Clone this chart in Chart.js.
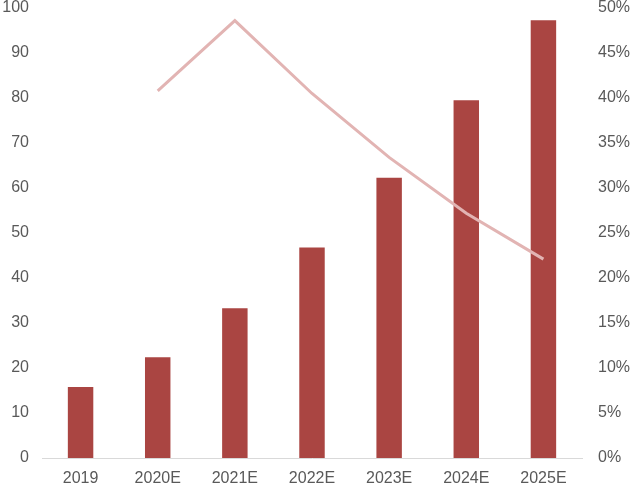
<!DOCTYPE html>
<html>
<head>
<meta charset="utf-8">
<script src="https://cdn.jsdelivr.net/npm/chart.js@4/dist/chart.umd.min.js"></script>
<style>
  html, body { margin: 0; padding: 0; background: #fff; }
  #wrap { width: 640px; height: 492px; }
</style>
</head>
<body>
<div id="wrap"><canvas id="chart"></canvas></div>
<script>
// Categorias e séries
const categorias = ['2019', '2020E', '2021E', '2022E', '2023E', '2024E', '2025E'];
const valores = [15.8, 22.4, 33.3, 46.8, 62.3, 79.5, 97.3];
const crescimento = [null, 40.8, 48.6, 40.5, 33.4, 27.2, 22.1];

Chart.defaults.font.family = '"Liberation Sans", Arial, sans-serif';
Chart.defaults.font.size = 16;
Chart.defaults.color = '#595959';

// fixa a largura do eixo e a folga superior (rótulo "100" encostado no topo)
function fixarEixo(largura) {
  return (s) => {
    s.width = largura;
    s.paddingTop = 8;
    s.paddingBottom = 0;
  };
}

new Chart(document.getElementById('chart'), {
  data: {
    labels: categorias,
    datasets: [
      {
        type: 'line',
        data: crescimento,
        yAxisID: 'y1',
        borderColor: '#E2B4B3',
        borderWidth: 3,
        pointRadius: 0,
        tension: 0,
        order: 0
      },
      {
        type: 'bar',
        data: valores,
        yAxisID: 'y',
        backgroundColor: '#AA4542',
        categoryPercentage: 1,
        barPercentage: 0.33,
        order: 1
      }
    ]
  },
  options: {
    responsive: true,
    maintainAspectRatio: false,
    animation: false,
    layout: { padding: 0 },
    plugins: { legend: { display: false }, tooltip: { enabled: false } },
    scales: {
      x: {
        grid: { display: false, drawTicks: false },
        border: { display: true, color: '#D9D9D9', width: 1 },
        ticks: { padding: 11 },
        afterFit: (s) => { s.height = 34; s.paddingLeft = 0; s.paddingRight = 0; }
      },
      y: {
        position: 'left',
        min: 0, max: 100,
        ticks: { stepSize: 10, padding: 13 },
        grid: { display: false, drawTicks: false },
        border: { display: false },
        afterFit: fixarEixo(42)
      },
      y1: {
        position: 'right',
        min: 0, max: 50,
        ticks: { stepSize: 5, padding: 16, callback: (v) => v + '%' },
        grid: { display: false, drawTicks: false },
        border: { display: false },
        afterFit: fixarEixo(58)
      }
    }
  }
});
</script>
</body>
</html>
